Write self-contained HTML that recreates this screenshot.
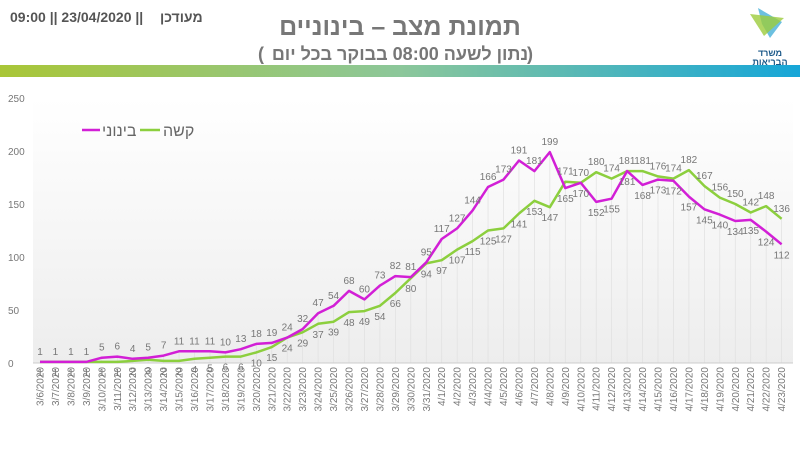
<!DOCTYPE html>
<html><head><meta charset="utf-8"><style>
body{margin:0;width:800px;height:450px;background:#fff;overflow:hidden;font-family:"Liberation Sans","Noto Sans CJK SC",sans-serif}
</style></head><body>
<svg id="s" width="800" height="450" xmlns="http://www.w3.org/2000/svg" font-family="Liberation Sans, DejaVu Sans, sans-serif">
<defs>
<linearGradient id="bar" x1="0" x2="1"><stop offset="0" stop-color="#a9c637"/><stop offset="0.5" stop-color="#8cc79a"/><stop offset="1" stop-color="#16a6d8"/></linearGradient>
<linearGradient id="bg" x1="0" x2="0" y1="0" y2="1"><stop offset="0" stop-color="#ffffff"/><stop offset="1" stop-color="#ededed"/></linearGradient>
</defs>
<rect x="0" y="65" width="800" height="12" fill="url(#bar)"/>
<text x="10" y="22" font-size="14" font-weight="bold" fill="#555">09:00 || 23/04/2020 ||</text>
<text x="160" y="22" font-size="14" font-weight="bold" fill="#555">מעודכן</text>
<text x="400" y="35" font-size="25" font-weight="bold" fill="#777" text-anchor="middle">תמונת מצב – בינוניים</text>
<text x="258" y="60" font-size="18" font-weight="bold" fill="#777">(</text>
<text x="400" y="60" font-size="18" font-weight="bold" fill="#777" text-anchor="middle">נתון לשעה 08:00 בבוקר בכל יום</text>
<text x="527" y="60" font-size="18" font-weight="bold" fill="#777">)</text>
<polygon points="758,8 782,22 770,38 762,24" fill="#6cc0e0"/>
<polygon points="750,14 784,18 764,36" fill="#9ccc3c" opacity="0.8"/>
<text x="770" y="56" font-size="9" fill="#1d5a8a" text-anchor="middle" font-weight="bold">משרד</text>
<text x="770" y="65" font-size="9" fill="#1d5a8a" text-anchor="middle" font-weight="bold">הבריאות</text>
<rect x="33" y="98" width="760" height="265" fill="url(#bg)"/>
<g id="g"></g>
</svg>
<script>
var m=[1,1,1,1,5,6,4,5,7,11,11,11,10,13,18,19,24,32,47,54,68,60,73,82,81,95,117,127,144,166,173,191,181,199,165,170,152,155,181,168,173,172,157,145,140,134,135,124,112];
var k=[1,1,1,1,1,1,2,3,2,2,4,5,6,6,10,15,24,29,37,39,48,49,54,66,80,94,97,107,115,125,127,141,153,147,171,170,180,174,181,181,176,174,182,167,156,150,142,148,136];
var g=document.getElementById('g'),h='';
function X(i){return 40+i*15.45}function Y(v){return 363-v*1.06}
for(var i=0;i<=5;i++){var y=363-i*53;h+='<text x="8" y="'+(y+4)+'" font-size="10" fill="#777">'+(i*50)+'</text>';}
for(var i=0;i<49;i++){var x=X(i);h+='<line x1="'+x+'" y1="'+Y(Math.max(m[i],k[i]))+'" x2="'+x+'" y2="363" stroke="#e0e0e0" stroke-width="0.7"/>';
var d=new Date(2020,2,6+i);var t=(d.getMonth()+1)+'/'+d.getDate()+'/2020';
h+='<text transform="translate('+(x+3.5)+',367) rotate(-90)" font-size="10" fill="#777" text-anchor="end">'+t+'</text>';}
h+='<line x1="33" y1="363" x2="793" y2="363" stroke="#ccc"/>';
function pl(a,c){var p=a.map(function(v,i){return X(i).toFixed(1)+','+Y(v).toFixed(1)}).join(' ');return '<polyline points="'+p+'" fill="none" stroke="'+c+'" stroke-width="2.5" stroke-linejoin="round"/>';}
h+=pl(k,'#8ccf3e')+pl(m,'#d21fd6');
for(var i=0;i<49;i++){var x=X(i);var mu=m[i]>=k[i];
h+='<text x="'+x+'" y="'+(Y(m[i])+(mu?-7:14))+'" font-size="10" fill="#777" text-anchor="middle">'+m[i]+'</text>';
h+='<text x="'+x+'" y="'+(Y(k[i])+(mu?14:-7))+'" font-size="10" fill="#777" text-anchor="middle">'+k[i]+'</text>';}
h+='<line x1="82" y1="130" x2="100" y2="130" stroke="#d21fd6" stroke-width="2.5"/><text x="102" y="136" font-size="16" fill="#666">בינוני</text>';
h+='<line x1="140" y1="130" x2="160" y2="130" stroke="#8ccf3e" stroke-width="2.5"/><text x="163" y="136" font-size="16" fill="#666">קשה</text>';
g.innerHTML=h;
</script>
</body></html>
